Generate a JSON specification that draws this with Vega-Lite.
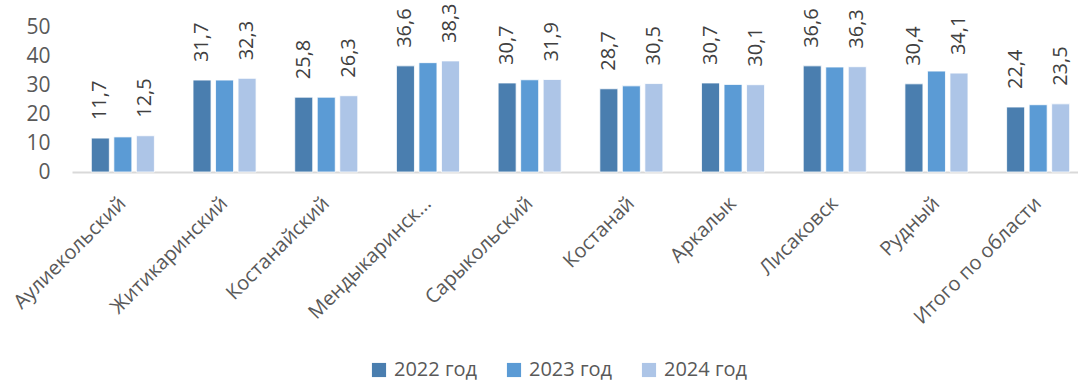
{
  "$schema": "https://vega.github.io/schema/vega-lite/v6.json",
  "width": 1017,
  "height": 145,
  "autosize": {"type": "none"},
  "padding": {"left": 72, "top": 27, "right": -11, "bottom": 211},
  "background": "white",
  "config": {
    "font": "Open Sans",
    "view": {"stroke": null},
    "locale": {"number": {"decimal": ",", "thousands": " ", "grouping": [3], "currency": ["", ""]}}
  },
  "data": {
    "values": [
      {"district": "Аулиекольский", "year": "2022 год", "value": 11.7, "show": true},
      {"district": "Аулиекольский", "year": "2023 год", "value": 12.1, "show": false},
      {"district": "Аулиекольский", "year": "2024 год", "value": 12.5, "show": true},
      {"district": "Житикаринский", "year": "2022 год", "value": 31.7, "show": true},
      {"district": "Житикаринский", "year": "2023 год", "value": 31.7, "show": false},
      {"district": "Житикаринский", "year": "2024 год", "value": 32.3, "show": true},
      {"district": "Костанайский", "year": "2022 год", "value": 25.8, "show": true},
      {"district": "Костанайский", "year": "2023 год", "value": 25.8, "show": false},
      {"district": "Костанайский", "year": "2024 год", "value": 26.3, "show": true},
      {"district": "Мендыкаринский", "year": "2022 год", "value": 36.6, "show": true},
      {"district": "Мендыкаринский", "year": "2023 год", "value": 37.7, "show": false},
      {"district": "Мендыкаринский", "year": "2024 год", "value": 38.3, "show": true},
      {"district": "Сарыкольский", "year": "2022 год", "value": 30.7, "show": true},
      {"district": "Сарыкольский", "year": "2023 год", "value": 31.8, "show": false},
      {"district": "Сарыкольский", "year": "2024 год", "value": 31.9, "show": true},
      {"district": "Костанай", "year": "2022 год", "value": 28.7, "show": true},
      {"district": "Костанай", "year": "2023 год", "value": 29.7, "show": false},
      {"district": "Костанай", "year": "2024 год", "value": 30.5, "show": true},
      {"district": "Аркалык", "year": "2022 год", "value": 30.7, "show": true},
      {"district": "Аркалык", "year": "2023 год", "value": 30.2, "show": false},
      {"district": "Аркалык", "year": "2024 год", "value": 30.1, "show": true},
      {"district": "Лисаковск", "year": "2022 год", "value": 36.6, "show": true},
      {"district": "Лисаковск", "year": "2023 год", "value": 36.2, "show": false},
      {"district": "Лисаковск", "year": "2024 год", "value": 36.3, "show": true},
      {"district": "Рудный", "year": "2022 год", "value": 30.4, "show": true},
      {"district": "Рудный", "year": "2023 год", "value": 34.8, "show": false},
      {"district": "Рудный", "year": "2024 год", "value": 34.1, "show": true},
      {"district": "Итого по области", "year": "2022 год", "value": 22.4, "show": true},
      {"district": "Итого по области", "year": "2023 год", "value": 23.2, "show": false},
      {"district": "Итого по области", "year": "2024 год", "value": 23.5, "show": true}
    ]
  },
  "encoding": {
    "x": {
      "field": "district",
      "type": "nominal",
      "sort": null,
      "scale": {"paddingInner": 0.38, "paddingOuter": 0.19},
      "axis": {
        "title": null,
        "labelAngle": -45,
        "labelAlign": "right",
        "labelBaseline": "middle",
        "labelFontSize": 20,
        "labelColor": "#595959",
        "labelPadding": 28,
        "labelLimit": 300,
        "labelExpr": "datum.value == 'Мендыкаринский' ? 'Мендыкаринск...' : datum.value",
        "ticks": false,
        "domainColor": "#d9d9d9",
        "domainWidth": 2
      }
    },
    "xOffset": {"field": "year", "type": "nominal", "scale": {"paddingInner": 0.2}},
    "y": {
      "field": "value",
      "type": "quantitative",
      "scale": {"domain": [0, 50]},
      "axis": {
        "title": null,
        "values": [0, 10, 20, 30, 40, 50],
        "grid": false,
        "domain": false,
        "ticks": false,
        "labelFontSize": 21,
        "labelColor": "#595959",
        "labelPadding": 22
      }
    }
  },
  "layer": [
    {
      "mark": {"type": "bar", "stroke": "white", "strokeWidth": 0.8},
      "encoding": {
        "color": {
          "field": "year",
          "type": "nominal",
          "scale": {"range": ["#4a7eaf", "#5b9bd5", "#adc5e7"]},
          "legend": {
            "title": null,
            "orient": "none",
            "direction": "horizontal",
            "legendX": 297,
            "legendY": 333,
            "symbolType": "square",
            "symbolSize": 200,
            "symbolStrokeWidth": 0,
            "labelFontSize": 20,
            "labelColor": "#595959",
            "columnPadding": 26,
            "labelOffset": 5
          }
        }
      }
    },
    {
      "transform": [{"filter": "datum.show"}],
      "mark": {
        "type": "text",
        "angle": 270,
        "align": "left",
        "baseline": "middle",
        "dx": 18,
        "fontSize": 20,
        "color": "#404040"
      },
      "encoding": {
        "text": {"field": "value", "type": "quantitative", "format": ".1f"}
      }
    }
  ]
}
